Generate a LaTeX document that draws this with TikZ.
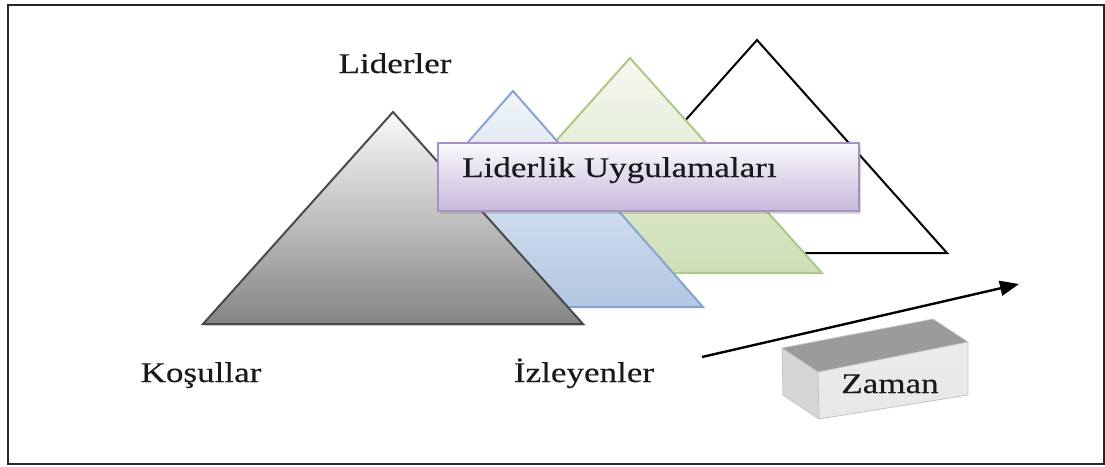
\documentclass[tikz,border=0pt]{standalone}
\usepackage{fontspec}
\setmainfont{Liberation Serif}
\newfontfamily\lblfont{Liberation Serif}[FakeBold=0.35]
\usetikzlibrary{shadows,arrows.meta}
\newcommand{\wtxt}[1]{\scalebox{1.23}[1]{#1}}
\definecolor{grayedge}{HTML}{4A4A4A}
\definecolor{graytop}{HTML}{FAFAFA}
\definecolor{graybot}{HTML}{858585}
\definecolor{blueedge}{HTML}{86A4D0}
\definecolor{bluetop}{HTML}{F2F5FA}
\definecolor{bluebot}{HTML}{B2C7E2}
\definecolor{greenedge}{HTML}{ADC786}
\definecolor{greentop}{HTML}{F6F9F1}
\definecolor{greenbot}{HTML}{CDDEB4}
\definecolor{boxedge}{HTML}{A592C2}
\definecolor{boxtop}{HTML}{FBF9FD}
\definecolor{boxbot}{HTML}{C7B9DB}
\definecolor{cubetop}{HTML}{9B9B9B}
\definecolor{cubefront}{HTML}{E8E8E8}
\definecolor{cubeside}{HTML}{D6D6D6}
\definecolor{cubeedge}{HTML}{C4C4C4}
\begin{document}
\begin{tikzpicture}[x=1pt,y=-1pt,
  lbl/.style={inner sep=0pt, font=\lblfont\fontsize{28.5}{32}\selectfont, text=black!90},
  frame/.style={draw=black!85, line width=1.6pt},
  tri/.style={line width=2pt, line join=miter},
  cube/.style={draw=cubeedge, line width=0.8pt, line join=round},
  timearrow/.style={line width=2.4pt, -{Triangle[length=19pt,width=15pt]}}]
\useasboundingbox (0,0) rectangle (1105,466);
\draw[frame] (8,5) rectangle (1104,464);
% white triangle
\draw[tri, draw=black, fill=white] (757,40) -- (947,253) -- (567,253) -- cycle;
% green triangle
\draw[tri, draw=greenedge, top color=greentop, bottom color=greenbot] (630,58) -- (822,273) -- (438,273) -- cycle;
% blue triangle
\draw[tri, draw=blueedge, top color=bluetop, bottom color=bluebot] (513,91) -- (703,307) -- (323,307) -- cycle;
% gray triangle
\draw[tri, draw=grayedge, top color=graytop, bottom color=graybot,
  drop shadow={shadow xshift=1.5pt, shadow yshift=-2pt, opacity=0.25}] (393,112) -- (583,324) -- (203,324) -- cycle;
% practices box
\node[draw=boxedge, line width=2pt, top color=boxtop, bottom color=boxbot,
  minimum width=421pt, minimum height=68pt, inner sep=0pt, anchor=north west,
  drop shadow={shadow xshift=2pt, shadow yshift=-3pt, opacity=0.3}] (pbox) at (437,142) {};
\node[lbl, anchor=base west] (practices) at (462,177) {\wtxt{Liderlik Uygulamaları}};
% labels
\node[lbl, anchor=base] (leaders) at (395,73) {\wtxt{Liderler}};
\node[lbl, anchor=base] (conditions) at (201,382) {\wtxt{Koşullar}};
\node[lbl, anchor=base] (followers) at (584,382) {\wtxt{İzleyenler}};
% time cube
\coordinate (c1) at (782,348);
\coordinate (c2) at (933,319);
\coordinate (c3) at (968,342);
\coordinate (c4) at (818,372);
\coordinate (c5) at (968,395);
\coordinate (c6) at (819,419);
\coordinate (c7) at (783,395);
\fill[cubeside] (c1) -- (c4) -- (c6) -- (c7) -- cycle;
\fill[cubetop] (c1) -- (c2) -- (c3) -- (c4) -- cycle;
\shade[top color=cubefront!90!white, bottom color=cubefront] (c4) -- (c3) -- (c5) -- (c6) -- cycle;
\draw[cube] (c1) -- (c2) -- (c3) -- (c5) -- (c6) -- (c7) -- cycle (c4) -- (c3) (c4) -- (c6) (c1) -- (c4);
\node[lbl, anchor=base] (time) at (890,393) {\wtxt{Zaman}};
% time arrow
\coordinate (a0) at (702,357);
\coordinate (a1) at (1019,284);
\draw[timearrow] (a0) -- (a1);
\end{tikzpicture}
\end{document}
